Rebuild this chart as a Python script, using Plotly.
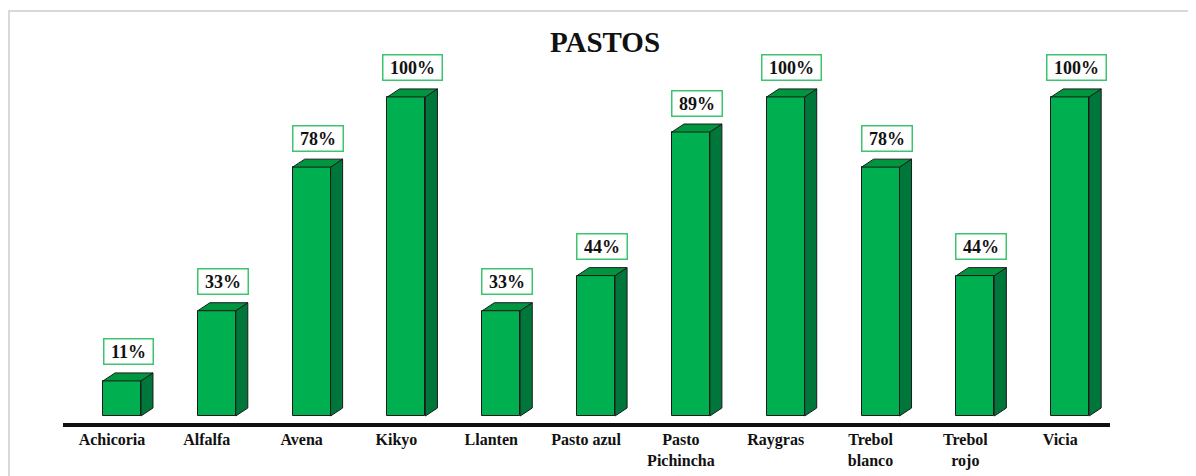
import plotly.graph_objects as go

# data
categories = ["Achicoria", "Alfalfa", "Avena", "Kikyo", "Llanten", "Pasto azul",
              "Pasto<br>Pichincha", "Raygras", "Trebol<br>blanco", "Trebol<br>rojo", "Vicia"]
values = [11, 33, 78, 100, 33, 44, 89, 100, 78, 44, 100]

FRONT = "#00B050"
SIDE = "#00773A"
TOP = "#00963F"
SERIF = "Liberation Serif, Times New Roman, serif"

W = 1196
H = 476
bar_w = 0.40   # front face width (category units)
dx = 0.127     # 3D depth, x
dy = 2.5       # 3D depth, y

idx = list(range(len(categories)))

fig = go.Figure()
fig.add_trace(go.Bar(
    x=idx, y=values, width=bar_w,
    marker=dict(color=FRONT, line=dict(color="#1a1a1a", width=1)),
    hoverinfo="skip",
))

# side and top faces built from each bar's value
for i, v in zip(idx, values):
    r = i + bar_w / 2
    l = i - bar_w / 2
    fig.add_trace(go.Scatter(
        x=[r, r + dx, r + dx, r, r], y=[0, dy, v + dy, v, 0],
        mode="lines", fill="toself", fillcolor=SIDE,
        line=dict(color="#1a1a1a", width=1), hoverinfo="skip",
    ))
    fig.add_trace(go.Scatter(
        x=[l, l + dx, r + dx, r, l], y=[v, v + dy, v + dy, v, v],
        mode="lines", fill="toself", fillcolor=TOP,
        line=dict(color="#1a1a1a", width=1), hoverinfo="skip",
    ))
    fig.add_annotation(
        x=i + dx / 2, y=v + dy, yshift=21, text=f"&nbsp;<b>{v}%</b>&nbsp;",
        showarrow=False, yanchor="middle",
        font=dict(family=SERIF, size=18, color="#111111"),
        bgcolor="white", bordercolor="#3CC46E", borderwidth=1.5, borderpad=2,
    )

# outer chart border
fig.add_shape(type="rect", xref="paper", yref="paper",
              x0=-54 / 1047, x1=1.2, y0=-0.3, y1=1 + 9 / 403,
              line=dict(color="#d9d9d9", width=2), layer="below")

fig.update_layout(
    width=W, height=H,
    margin=dict(l=55, r=94, t=12, b=61, autoexpand=False),
    paper_bgcolor="white", plot_bgcolor="white",
    showlegend=False, bargap=0,
    title=dict(text="<b>PASTOS</b>", x=597 / W, xanchor="center",
               y=1 - 34 / H, yanchor="middle",
               font=dict(family=SERIF, size=29, color="#111111")),
    xaxis=dict(
        range=[-0.622, 10.42], tickvals=idx,
        ticktext=[f"<b>{c}</b>" for c in categories],
        showline=True, linecolor="#111111", linewidth=4,
        showgrid=False, zeroline=False, ticks="", automargin=False,
        ticklabelshift=-10, ticklabelstandoff=-1,
        tickfont=dict(family=SERIF, size=16, color="#111111"),
    ),
    yaxis=dict(range=[-2.19, 124.1], visible=False, showgrid=False,
               zeroline=False, automargin=False),
)

fig.write_html("out.html")
